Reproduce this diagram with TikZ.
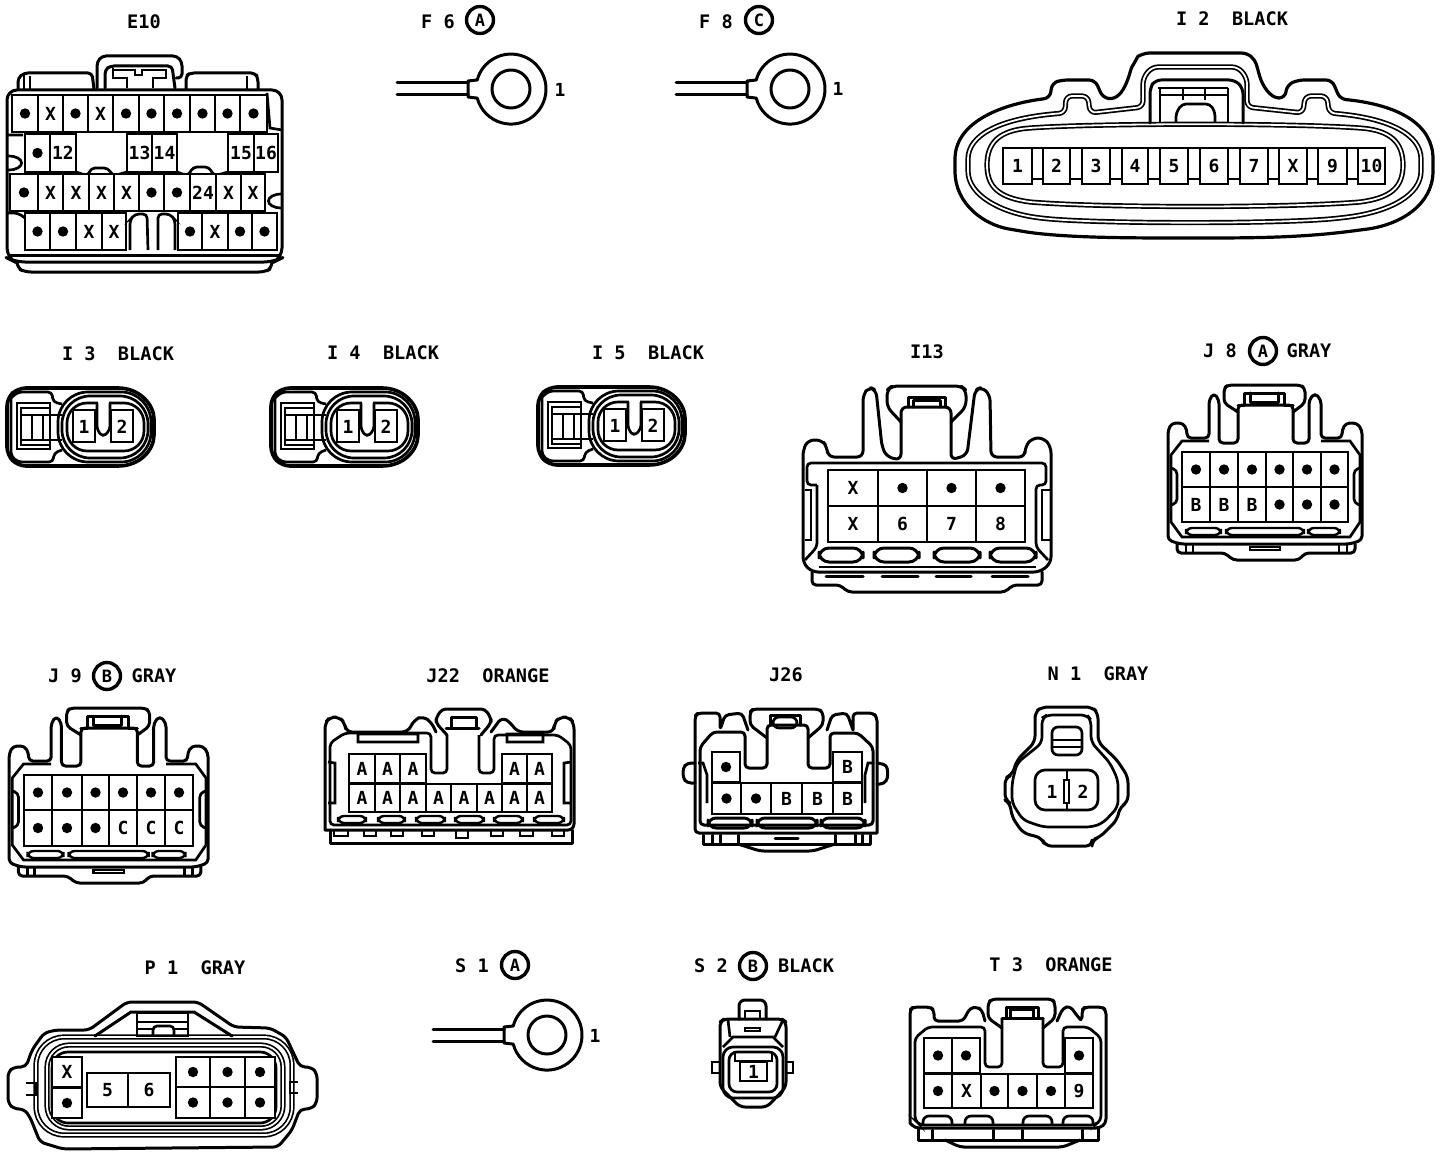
\documentclass[tikz,border=0pt]{standalone}
\usepackage{fontspec}
\setmonofont{DejaVu Sans Mono}
\usepackage{tikz}
\tikzset{
    wall/.style={line width=1.5pt, line join=round, line cap=round},
    twin/.style={line width=.85pt, double=white, double distance=.9pt, line join=round},
    cell/.style={line width=1.35pt},
    slot/.style={line width=1.2pt, rounded corners=3pt},
    pin/.style={font=\ttfamily\bfseries\fontsize{9}{9}\selectfont, inner sep=0pt},
    title/.style={font=\ttfamily\bfseries\fontsize{9.3}{9.3}\selectfont, inner sep=0pt},
    badge/.style={circle, draw, line width=1.7pt, minimum size=13.5pt, inner sep=0pt, font=\ttfamily\bfseries\fontsize{8.5}{8.5}\selectfont}
}
\newcommand{\pindot}{\tikz\fill (0,0) circle (2.6pt);}
\newcommand{\pinrow}[3]{
    \foreach \a/\b/\t in {#3} {
        \draw[cell, fill=white] (\a,#1) rectangle (\b,#2);
        \node[pin] (p\a-#1) at ({(\a+\b)/2},{(#1+#2)/2}) {\t};
    }
}
\newcommand{\ringlug}[2]{
    \begin{scope}[shift={(#1,#2)}]
        \draw[wall] (-114,-6) -- (-43,-6) (-114,6) -- (-43,6);
        \draw[wall] (-43,-8) -- (-33.8,-9) arc[start angle=195, end angle=525, radius=35] -- (-43,8) -- cycle;
        \draw[wall] (0,0) circle (19);
    \end{scope}
}
\newcommand{\plugshell}{
    \draw[wall, line width=1.8pt, rounded corners=4pt] (7,398) -- (7,455) -- (18,466) -- (110,466) .. controls (140,466) and (154,450) .. (154,427) .. controls (154,405) and (140,388) .. (110,388) -- (18,388) -- cycle;
    \draw[cell, rounded corners=2pt] (11,398) -- (18,392) -- (52,392) -- (53,402) -- (62,404);
    \draw[cell, rounded corners=2pt] (11,398) -- (11,456) -- (18,462) -- (53,462) -- (54,453) -- (62,450);
    \draw[cell, rounded corners=15pt] (58,392) rectangle (151,462);
    \draw[cell, rounded corners=14pt] (62,396) rectangle (148,458);
    \draw[cell, rounded corners=10pt] (67,403) rectangle (144,451);
    \draw[white, line width=1.6pt] (98,403) -- (109,403);
    \draw[cell, rounded corners=2pt] (97,403) -- (97,430) -- (103,437) -- (110,430) -- (110,403);
    \draw[cell] (17,403) rectangle (50,449) (21,408) rectangle (50,445) (32,415) -- (32,440) (43,415) -- (43,440) (21,415) -- (62,415) (21,440) -- (62,440);
    \draw[cell] (73,410) rectangle (95,442) (111,410) rectangle (133,442);
}
\newcommand{\jshell}{
    \draw[wall, rounded corners=2pt] (1168,540) -- (1168,430) -- (1172,423) -- (1183,423) -- (1187,430) -- (1187,438) -- (1209,438) -- (1209,400) -- (1214,393) -- (1219,400) -- (1219,443) -- (1238,443) -- (1238,405) -- (1293,405) -- (1293,443) -- (1309,443) -- (1309,400) -- (1315,393) -- (1321,400) -- (1321,438) -- (1342,438) -- (1342,430) -- (1346,423) -- (1357,423) -- (1362,430) -- (1362,540) -- (1350,544) -- (1180,544) -- cycle;
    \draw[wall, rounded corners=2pt] (1238,412) -- (1224,403) -- (1224,388) -- (1228,385) -- (1300,385) -- (1305,388) -- (1305,403) -- (1293,412);
    \draw[wall] (1238,405) -- (1244,405) -- (1244,393) -- (1284,393) -- (1284,405) -- (1293,405) (1250,393) -- (1250,402) -- (1278,402) -- (1278,393);
    \draw[cell] (1209,441) -- (1182,441) -- (1171,455) -- (1171,522) -- (1182,537) -- (1350,537) -- (1360,522) -- (1360,455) -- (1350,441) -- (1321,441);
    \draw[cell, rounded corners=2pt] (1171,468) -- (1177,470) -- (1177,503) -- (1171,505) (1360,468) -- (1354,470) -- (1354,503) -- (1360,505);
    \draw[slot] (1186,528) rectangle (1221,535) (1226,528) rectangle (1304,535) (1308,528) rectangle (1340,535);
    \draw[wall, rounded corners=2pt] (1177,544) -- (1177,553) -- (1225,553) -- (1233,560) -- (1299,560) -- (1305,553) -- (1355,553) -- (1355,544);
    \draw[cell] (1186,544) -- (1186,553) (1193,544) -- (1193,553) (1339,544) -- (1339,553) (1347,544) -- (1347,553) (1250,547) rectangle (1280,550);
}
\begin{document}
\begin{tikzpicture}[x=.5pt, y=-.5pt]
    \useasboundingbox[fill=white] (0,0) rectangle (1440,1156);

    % E10
    \node[title] (e10title) at (144,22) {E10};
    \draw[wall, rounded corners=2pt] (97,88) -- (97,62) -- (102,56) -- (177,56) -- (182,62) -- (182,78) -- (176,78);
    \draw[wall, rounded corners=2pt] (105,88) -- (105,70) -- (110,66) -- (172,66) -- (175,88);
    \draw[cell] (113,68) -- (113,78) -- (127,78) -- (127,88) (113,70) -- (135,70) -- (135,75) -- (142,75) -- (142,70) -- (166,70) -- (166,78) -- (153,78) -- (153,88);
    \draw[wall, rounded corners=2pt] (18,89) -- (18,78) -- (24,73) -- (92,73) -- (94,89) (186,89) -- (186,76) -- (190,73) -- (255,73) -- (258,78) -- (258,89);
    \draw[cell] (24,75) -- (24,89) (30,76) -- (30,89) (247,76) -- (247,89);
    \draw[wall, rounded corners=5pt] (7,90) -- (282,90) -- (282,258) -- (274,262) -- (15,262) -- (7,258) -- cycle;
    \draw[wall] (9,255) -- (280,255);
    \draw[wall, rounded corners=3pt] (17,262) -- (17,268) -- (25,272) -- (265,272) -- (272,268) -- (272,262);
    \draw[cell] (267,93) -- (270,128) -- (282,130) (7,135) -- (23,135) (8,156) .. controls (26,156) and (26,170) .. (8,170) (282,194) .. controls (264,194) and (264,208) .. (282,208);
    \pinrow{95}{132}{12/38/\pindot,38/63/X,63/88/\pindot,88/113/X,113/139/\pindot,139/164/\pindot,164/190/\pindot,190/215/\pindot,215/240/\pindot,240/267/\pindot}
    \pinrow{134}{172}{25/50/\pindot,50/76/12,127/152/13,152/177/14,228/254/15,254/278/16}
    \draw[cell, rounded corners=2pt] (76,172) -- (88,176) -- (91,168) -- (108,168) -- (113,176) -- (127,172) (177,172) -- (188,176) -- (193,167) -- (209,167) -- (214,176) -- (228,172);
    \pinrow{174}{211}{10/38/\pindot,38/63/X,63/89/X,89/114/X,114/139/X,139/164/\pindot,164/190/\pindot,190/216/24,216/241/X,241/265/X}
    \pinrow{213}{250}{25/50/\pindot,50/76/\pindot,76/102/X,102/126/X,178/202/\pindot,202/228/X,228/252/\pindot,252/277/\pindot}
    \draw[cell, rounded corners=2pt] (8,213) -- (18,213) -- (25,218) (130,250) -- (130,220) -- (135,214) -- (147,214) -- (148,250) (158,250) -- (158,214) -- (170,214) -- (175,220) -- (175,250);

    % F 6, F 8
    \node[title] (f6title) at (438,22) {F~6};
    \node[badge] (f6badge) at (480,20) {A};
    \ringlug{511}{89}
    \node[pin] (f6pin) at (560,90) {1};
    \node[title] (f8title) at (716,22) {F~8};
    \node[badge] (f8badge) at (759,20) {C};
    \ringlug{790}{89}
    \node[pin] (f8pin) at (838,89) {1};

    % I 2
    \node[title] (i2title) at (1232,19) {I~2~~BLACK};
    \draw[wall, line width=1.6pt, rounded corners=3pt] (955,165) .. controls (955,125) and (995,105) .. (1050,98) -- (1052,83) -- (1062,80) -- (1095,80) -- (1103,98) .. controls (1125,100) and (1130,70) .. (1135,62) .. controls (1138,56) and (1145,53) .. (1155,53) -- (1235,53) .. controls (1250,53) and (1255,60) .. (1258,70) .. controls (1262,85) and (1270,98) .. (1285,98) -- (1287,85) -- (1298,80) -- (1332,80) -- (1340,99) .. controls (1400,105) and (1433,125) .. (1433,165) .. controls (1433,205) and (1400,225) .. (1360,230) .. controls (1300,238) and (1250,238) .. (1190,238) .. controls (1130,238) and (1060,238) .. (1015,230) .. controls (985,225) and (955,205) .. (955,165) -- cycle;
    \draw[twin, rounded corners=3pt] (968,165) .. controls (968,135) and (1000,118) .. (1065,113) -- (1066,96) -- (1088,96) -- (1090,113) -- (1143,107) -- (1143,78) -- (1152,67) -- (1238,67) -- (1247,78) -- (1247,107) -- (1303,113) -- (1305,96) -- (1327,96) -- (1329,113) .. controls (1390,118) and (1421,135) .. (1421,165) .. controls (1421,195) and (1390,212) .. (1340,218) .. controls (1280,224) and (1100,224) .. (1040,218) .. controls (1000,212) and (968,195) .. (968,165) -- cycle;
    \draw[twin] (987,165) .. controls (987,142) and (1000,130) .. (1030,128) .. controls (1100,123) and (1290,123) .. (1360,128) .. controls (1390,130) and (1403,142) .. (1403,165) .. controls (1403,188) and (1390,198) .. (1360,202) .. controls (1290,208) and (1100,208) .. (1030,202) .. controls (1000,198) and (987,188) .. (987,165) -- cycle;
    \draw[wall, rounded corners=3pt] (1150,123) -- (1150,88) -- (1155,80) -- (1235,80) -- (1243,88) -- (1243,123);
    \draw[cell] (1158,88) -- (1228,88) (1160,95) -- (1228,95) (1160,88) -- (1160,123) (1183,88) -- (1183,100) (1205,88) -- (1205,100) (1228,88) -- (1228,123);
    \draw[cell, rounded corners=2pt] (1176,123) -- (1176,113) -- (1182,104) -- (1210,104) -- (1215,112) -- (1215,123);
    \draw[cell] (1003,148) rectangle (1385,179);
    \pinrow{148}{184}{1003/1032/1,1043/1070/2,1082/1110/3,1122/1148/4,1160/1188/5,1200/1228/6,1240/1268/7,1279/1307/X,1318/1347/9,1358/1385/10}

    % I 3, I 4, I 5
    \node[title] (i3title) at (118,354) {I~3~~BLACK};
    \plugshell
    \node[pin] (i3a) at (84,427) {1};
    \node[pin] (i3b) at (122,427) {2};
    \node[title] (i4title) at (383,353) {I~4~~BLACK};
    \begin{scope}[shift={(264,0)}]
        \plugshell
        \node[pin] (i4a) at (84,427) {1};
        \node[pin] (i4b) at (122,427) {2};
    \end{scope}
    \node[title] (i5title) at (648,353) {I~5~~BLACK};
    \begin{scope}[shift={(531,-1)}]
        \plugshell
        \node[pin] (i5a) at (84,427) {1};
        \node[pin] (i5b) at (122,427) {2};
    \end{scope}

    % I13
    \node[title] (i13title) at (927,352) {I13};
    \draw[wall, rounded corners=3pt] (803,563) -- (803,450) -- (808,440) -- (822,440) -- (827,447) -- (828,457) -- (863,457) -- (863,395) -- (869,387) -- (876,390) -- (882,447) -- (887,457) -- (901,460) -- (901,407) -- (951,407) -- (951,460) -- (967,455) -- (975,390) -- (982,387) -- (990,395) -- (991,457) -- (1025,457) -- (1025,447) -- (1032,438) -- (1044,438) -- (1051,447) -- (1051,563) -- (1040,572) -- (812,572) -- cycle;
    \draw[wall, rounded corners=3pt] (901,422) -- (887,407) -- (887,390) -- (892,386) -- (961,386) -- (966,390) -- (966,407) -- (951,422);
    \draw[wall] (908,407) -- (908,397) -- (945,397) -- (945,407) (913,407) -- (913,400) -- (940,400) -- (940,407);
    \draw[cell, rounded corners=2pt] (817,485) -- (807,485) -- (807,463) -- (1046,463) -- (1046,485) -- (1036,485) -- (1036,547) -- (1048,560) (817,485) -- (817,547) -- (805,560);
    \draw[cell] (805,490) -- (811,490) -- (811,540) -- (805,540) (1051,490) -- (1042,490) -- (1042,540) -- (1051,540) (819,567) -- (1036,567);
    \pinrow{470}{506}{828/878/X,878/927/\pindot,927/976/\pindot,976/1025/\pindot}
    \pinrow{506}{542}{828/878/X,878/927/6,927/976/7,976/1025/8}
    \draw[wall, rounded corners=5pt] (819,548) rectangle (863,562) (874,548) rectangle (919,562) (934,548) rectangle (980,562) (990,548) rectangle (1036,562);
    \draw[wall, rounded corners=2pt] (812,572) -- (812,585) -- (840,585) -- (848,592) -- (1005,592) -- (1013,585) -- (1042,585) -- (1042,572);
    \draw[wall] (826,576) -- (863,576) (882,576) -- (918,576) (936,576) -- (971,576) (992,576) -- (1028,576);

    % J 8, J 9
    \node[title] (j8title) at (1220,351) {J~8};
    \node[badge] (j8badge) at (1263,351) {A};
    \node[title] (j8color) at (1309,351) {GRAY};
    \jshell
    \pinrow{452}{487}{1182/1210/\pindot,1210/1238/\pindot,1238/1266/\pindot,1266/1293/\pindot,1293/1321/\pindot,1321/1348/\pindot}
    \pinrow{487}{522}{1182/1210/B,1210/1238/B,1238/1266/B,1266/1293/\pindot,1293/1321/\pindot,1321/1348/\pindot}
    \node[title] (j9title) at (65,676) {J~9};
    \node[badge] (j9badge) at (107,676) {B};
    \node[title] (j9color) at (154,676) {GRAY};
    \begin{scope}[shift={(-1188,323)}, xscale=1.025]
        \jshell
    \end{scope}
    \pinrow{775}{810}{24/52/\pindot,52/82/\pindot,82/109/\pindot,109/137/\pindot,137/165/\pindot,165/193/\pindot}
    \pinrow{810}{846}{24/52/\pindot,52/82/\pindot,82/109/\pindot,109/137/C,137/165/C,165/193/C}

    % J22
    \node[title] (j22title) at (488,676) {J22~~ORANGE};
    \draw[wall, rounded corners=3pt] (325,830) -- (325,723) -- (330,717) -- (339,717) -- (345,723) -- (346,732) -- (408,732) -- (414,720) -- (423,716) -- (432,723) -- (436,732) (491,732) -- (502,717) -- (511,723) -- (517,732) -- (554,732) -- (554,723) -- (560,717) -- (569,717) -- (574,723) -- (574,830) -- (325,830);
    \draw[wall, rounded corners=2pt] (447,735) -- (436,723) -- (436,718) -- (442,709) -- (485,709) -- (491,718) -- (491,723) -- (481,735);
    \draw[wall] (446,728) -- (479,728) (451,728) -- (451,717) -- (476,717) -- (476,728);
    \draw[cell, rounded corners=2pt] (447,735) -- (447,773) -- (431,773) -- (431,733) -- (345,733) -- (330,743) -- (330,825) -- (571,825) -- (571,745) -- (558,735) -- (494,735) -- (494,773) -- (479,773) -- (479,735);
    \draw[cell] (358,734) rectangle (418,742) (507,734) rectangle (543,742) (328,762) -- (335,763) -- (335,803) -- (328,803) (571,762) -- (564,763) -- (564,803) -- (571,803);
    \pinrow{754}{783}{349/375/A,375/400/A,400/426/A,502/527/A,527/552/A}
    \pinrow{784}{812}{349/375/A,375/400/A,400/426/A,426/451/A,451/477/A,477/502/A,502/527/A,527/552/A}
    \draw[slot] (338,816) rectangle (366,823) (378,816) rectangle (405,823) (416,816) rectangle (445,823) (455,816) rectangle (484,823) (494,816) rectangle (523,823) (534,816) rectangle (564,823);
    \draw[cell] (334,830) rectangle (348,836) (364,830) rectangle (376,836) (391,830) rectangle (403,836) (422,830) rectangle (434,836) (456,830) rectangle (468,838) (491,830) rectangle (503,836) (520,830) rectangle (533,836) (552,830) rectangle (564,836);
    \draw[wall] (330,830) -- (330,843) -- (572,843) -- (572,830);

    % J26
    \node[title] (j26title) at (786,675) {J26};
    \draw[wall, rounded corners=2pt] (877,833) -- (695,833) -- (695,716) -- (698,713) -- (720,713) -- (720,730) -- (725,715) -- (742,713) -- (748,730) (853,730) -- (847,713) -- (832,715) -- (827,730) (853,730) -- (853,713) -- (873,713) -- (877,717) -- (877,833);
    \draw[wall, rounded corners=2pt] (767,738) -- (750,725) -- (750,712) -- (753,709) -- (818,709) -- (823,712) -- (823,725) -- (808,738);
    \draw[wall, rounded corners=2pt] (700,825) -- (700,747) -- (713,732) -- (745,732) -- (745,768) -- (767,768) -- (767,725) -- (808,725) -- (808,768) -- (830,768) -- (830,733) -- (858,733) -- (873,747) -- (873,825) -- cycle;
    \draw[wall] (770,725) -- (770,715) -- (800,715) -- (800,725);
    \draw[cell, rounded corners=3pt] (773,717) rectangle (797,728);
    \draw[wall, rounded corners=2pt] (695,763) -- (687,763) -- (683,768) -- (683,778) -- (687,783) -- (695,783) (877,763) -- (887,765) -- (888,778) -- (884,784) -- (877,784);
    \draw[cell] (698,763) -- (703,763) -- (707,775) -- (707,803) (874,763) -- (868,763) -- (865,775) -- (865,803);
    \pinrow{752}{782}{712/740/\pindot,833/862/B}
    \pinrow{783}{814}{712/741/\pindot,741/771/\pindot,771/802/B,802/833/B,833/862/B}
    \draw[wall, rounded corners=4pt] (708,818) rectangle (752,828) (757,818) rectangle (817,828) (821,818) rectangle (865,828);
    \draw[wall] (703,835) -- (703,844) -- (870,844) -- (870,835) (712,835) -- (712,844) (720,835) -- (720,844) (738,835) -- (738,844) (835,835) -- (835,844) (855,835) -- (855,844) (862,835) -- (862,844) (775,838) -- (798,838);
    \draw[wall, rounded corners=2pt] (738,844) -- (760,851) -- (813,851) -- (835,844);

    % N 1
    \node[title] (n1title) at (1098,674) {N~1~~GRAY};
    \draw[wall, rounded corners=3pt] (1035,725) -- (1035,712) -- (1042,707) -- (1092,707) -- (1098,713) -- (1098,742) -- (1117,760) -- (1128,777) -- (1128,802) -- (1120,807) -- (1117,820) -- (1100,837) -- (1092,840) -- (1092,846) -- (1045,846) -- (1042,838) -- (1023,833) -- (1012,817) -- (1010,803) -- (1005,800) -- (1005,778) -- (1012,775) -- (1017,760) -- (1035,742) -- cycle;
    \draw[cell, rounded corners=3pt] (1042,730) -- (1042,718) -- (1047,715) -- (1087,715) -- (1091,720) -- (1091,742) -- (1110,763) -- (1118,780) -- (1118,807) -- (1103,823) -- (1092,827) -- (1043,827) -- (1023,820) -- (1012,803) -- (1012,783) -- (1017,763) -- (1042,743) -- cycle;
    \draw[cell, rounded corners=3pt] (1052,755) -- (1052,727) -- (1082,727) -- (1082,755) -- cycle;
    \draw[cell] (1052,740) -- (1082,740) (1052,747) -- (1082,747);
    \draw[cell, rounded corners=5pt] (1035,770) rectangle (1098,810);
    \draw[cell] (1064,780) rectangle (1069,803) (1067,770) -- (1067,780) (1067,803) -- (1067,810);
    \node[pin] (n1a) at (1052,792) {1};
    \node[pin] (n1b) at (1083,792) {2};

    % P 1
    \node[title] (p1title) at (195,968) {P~1~~GRAY};
    \draw[wall, rounded corners=2.5pt] (8,1085) -- (8,1072) -- (14,1067) -- (26,1067) -- (32,1050) -- (44,1033) -- (56,1030) -- (89,1030) -- (127,1002) -- (198,1002) -- (234,1027) -- (270,1028) -- (286,1037) -- (300,1067) -- (311,1067) -- (317,1073) -- (317,1103) -- (311,1109) -- (300,1109) -- (292,1130) -- (278,1147) -- (63,1149) -- (40,1142) -- (30,1117) -- (24,1109) -- (14,1109) -- (8,1103) -- cycle;
    \draw[twin, rounded corners=14pt] (36,1037) rectangle (292,1135);
    \draw[twin, rounded corners=11pt] (47,1045) rectangle (283,1128);
    \draw[cell, rounded corners=8pt] (52,1052) rectangle (276,1123);
    \draw[wall] (95,1036) -- (131,1012) -- (194,1012) -- (232,1036);
    \draw[cell] (137,1013) rectangle (188,1036) (137,1022) -- (188,1022) (137,1029) -- (153,1029) (174,1029) -- (188,1029);
    \draw[cell, rounded corners=2pt] (153,1036) -- (153,1026) -- (174,1026) -- (174,1036);
    \draw[cell] (26,1083) -- (36,1083) -- (36,1095) -- (26,1095) (298,1082) -- (290,1082) -- (290,1093) -- (298,1093);
    \pinrow{1057}{1087}{52/82/X}
    \pinrow{1088}{1118}{52/82/\pindot}
    \pinrow{1073}{1107}{87/128/5,128/170/6}
    \pinrow{1057}{1087}{176/210/\pindot,210/245/\pindot,245/275/\pindot}
    \pinrow{1087}{1118}{176/210/\pindot,210/245/\pindot,245/275/\pindot}

    % S 1
    \node[title] (s1title) at (472,966) {S~1};
    \node[badge] (s1badge) at (515,965) {A};
    \ringlug{547}{1035}
    \node[pin] (s1pin) at (595,1036) {1};

    % S 2
    \node[title] (s2title) at (711,966) {S~2};
    \node[badge] (s2badge) at (753,966) {B};
    \node[title] (s2color) at (806,966) {BLACK};
    \draw[wall, rounded corners=3pt] (739,1019) -- (739,1000) -- (766,1000) -- (766,1019);
    \draw[cell] (745,1019) -- (745,1011) -- (760,1011) -- (760,1019) (745,1028) rectangle (760,1031);
    \draw[wall, rounded corners=2.5pt] (720,1040) -- (720,1022) -- (724,1019) -- (782,1019) -- (786,1022) -- (786,1087) -- (767,1107) -- (740,1107) -- (720,1087) -- cycle;
    \draw[cell] (728,1020) -- (730,1037) (783,1020) -- (775,1037) (723,1047) -- (733,1037) -- (773,1037) -- (783,1047);
    \draw[cell, rounded corners=5pt] (723,1047) rectangle (783,1098);
    \draw[cell, rounded corners=4pt] (729,1052) rectangle (777,1092);
    \draw[cell] (735,1052) -- (735,1061) -- (772,1061) -- (772,1052) (712,1062) rectangle (720,1073) (786,1062) rectangle (793,1073);
    \pinrow{1062}{1081}{740/767/1}

    % T 3
    \node[title] (t3title) at (1051,965) {T~3~~ORANGE};
    \draw[wall, rounded corners=2pt] (910,1123) -- (910,1010) -- (913,1007) -- (930,1007) -- (934,1010) -- (934,1021) -- (963,1021) -- (970,1008) -- (977,1007) -- (982,1010) -- (985,1021) (1057,1021) -- (1063,1008) -- (1070,1006) -- (1078,1017) -- (1082,1021) -- (1082,1010) -- (1085,1007) -- (1102,1007) -- (1106,1010) -- (1106,1123) -- (1100,1128) -- (915,1128) -- (910,1123);
    \draw[wall, rounded corners=2pt] (1002,1028) -- (988,1018) -- (988,1003) -- (992,999) -- (1052,999) -- (1055,1003) -- (1055,1018) -- (1043,1028);
    \draw[wall] (1002,1018) -- (1043,1018) (1006,1018) -- (1006,1007) -- (1038,1007) -- (1038,1018) (1010,1018) -- (1010,1009) -- (1033,1009) -- (1033,1018);
    \draw[cell, rounded corners=2pt] (1002,1018) -- (1002,1067) -- (985,1067) -- (985,1027) -- (928,1027) -- (915,1038) -- (915,1120) -- (920,1125) -- (1095,1125) -- (1101,1120) -- (1101,1038) -- (1088,1027) -- (1063,1027) -- (1063,1067) -- (1043,1067) -- (1043,1018);
    \pinrow{1038}{1073}{924/952/\pindot,952/980/\pindot,1065/1093/\pindot}
    \pinrow{1074}{1108}{924/952/\pindot,952/981/X,981/1008/\pindot,1008/1037/\pindot,1037/1065/\pindot,1065/1093/9}
    \draw[cell, rounded corners=3pt] (923,1124) -- (923,1116) -- (952,1116) -- (952,1124) (965,1124) -- (965,1116) -- (993,1116) -- (993,1124) (1023,1124) -- (1023,1116) -- (1052,1116) -- (1052,1124) (1063,1124) -- (1063,1116) -- (1093,1116) -- (1093,1124);
    \draw[wall] (918,1128) -- (918,1140) -- (1098,1140) -- (1098,1128) (932,1130) -- (932,1140) (993,1130) -- (993,1140) (1022,1130) -- (1022,1140) (1082,1130) -- (1082,1140);
    \draw[wall, rounded corners=2pt] (945,1140) -- (960,1147) -- (1063,1147) -- (1080,1140);
\end{tikzpicture}
\end{document}
